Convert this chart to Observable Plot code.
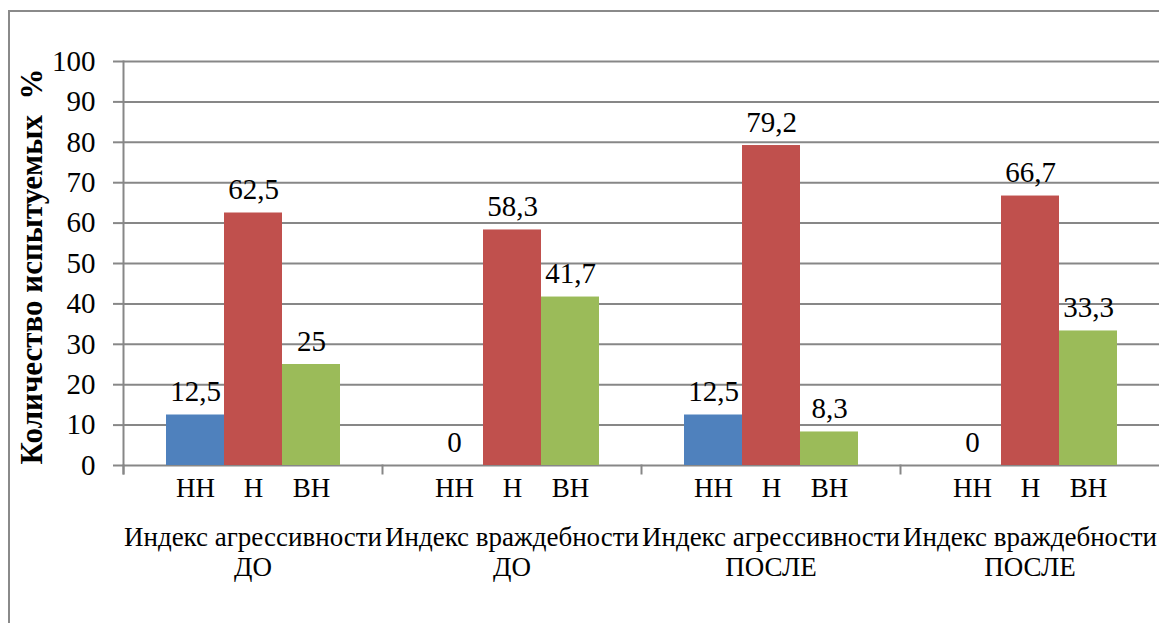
<!DOCTYPE html>
<html><head><meta charset="utf-8">
<script src="https://cdn.jsdelivr.net/npm/d3@7"></script>
<script src="https://cdn.jsdelivr.net/npm/@observablehq/plot@0.6"></script>
<style>
html,body{margin:0;padding:0;background:#fff;overflow:hidden;width:1159px;height:623px;}
#border{position:absolute;left:8px;top:10px;width:1300px;height:800px;border:2px solid #8a8a8a;box-sizing:border-box;}
#chart{position:absolute;left:0;top:0;}
</style></head><body>
<div id="border"></div><div id="chart"></div>
<script>
const groups = ["Индекс агрессивности\nДО", "Индекс враждебности\nДО", "Индекс агрессивности\nПОСЛЕ", "Индекс враждебности\nПОСЛЕ"];
const series = ["НН", "Н", "ВН"];
const valuesNN = [12.5, 0, 12.5, 0];
const valuesN = [62.5, 58.3, 79.2, 66.7];
const valuesVN = [25, 41.7, 8.3, 33.3];
const colors = ["#4F81BD", "#C0504D", "#9BBB59"];
const yTicks = [0, 10, 20, 30, 40, 50, 60, 70, 80, 90, 100];
const yTitle = "Количество испытуемых\u00a0 %";

const seriesValues = [valuesNN, valuesN, valuesVN];
const data = groups.flatMap((g, i) => series.map((s, j) => ({group: g, series: s, value: seriesValues[j][i]})));
const fmt = v => String(v).replace(".", ",");
const grid = "#878787";
const serif = "Liberation Serif";

const chart = Plot.plot({
  width: 1159, height: 623,
  marginLeft: 123, marginRight: 0, marginTop: 61, marginBottom: 158,
  style: {fontFamily: serif, fontSize: "28px", color: "#000", background: "transparent", overflow: "visible"},
  fx: {domain: groups, padding: 0},
  x: {domain: series, paddingInner: 0, paddingOuter: 0.73},
  y: {domain: [0, 100]},
  color: {domain: series, range: colors},
  marks: [
    Plot.gridY(yTicks, {stroke: grid, strokeOpacity: 1, strokeWidth: 2}),
    Plot.barY(data, {fx: "group", x: "series", y: "value", fill: "series"}),
    Plot.frame({anchor: "left", facetAnchor: "left", stroke: grid, strokeWidth: 2, insetBottom: -8}),
    Plot.frame({anchor: "left", stroke: grid, strokeWidth: 2, insetTop: 404, insetBottom: -8}),
    Plot.axisY(yTicks, {tickSize: 10, tickPadding: 18, stroke: grid, strokeWidth: 2, fontSize: 29, fontFamily: serif, label: null}),
    Plot.axisX({tickSize: 0, tickPadding: 12, fontSize: 27, fontFamily: serif, label: null}),
    Plot.axisFx({anchor: "bottom", tickSize: 0, tickPadding: 59, fontSize: 27, fontFamily: serif, lineHeight: 1.12, label: null}),
    Plot.text(data, {fx: "group", x: "series", y: "value", text: d => fmt(d.value), lineAnchor: "bottom", dy: -14, fontSize: 29, fontFamily: serif}),
    Plot.text([yTitle], {text: d => d, frameAnchor: "left", textAnchor: "middle", rotate: -90, dx: -91, dy: 3, fontWeight: "bold", fontSize: 31, fontFamily: serif, facetAnchor: "left"})
  ]
});
document.getElementById("chart").appendChild(chart);
</script>
</body></html>
